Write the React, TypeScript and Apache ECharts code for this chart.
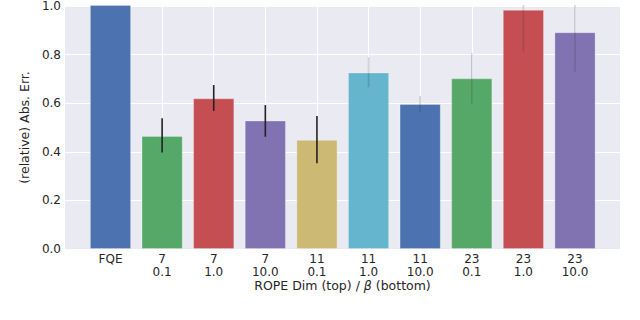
import React, { useEffect, useRef } from "react";
import * as echarts from "echarts";

const categories = ["FQE", "7\n0.1", "7\n1.0", "7\n10.0", "11\n0.1", "11\n1.0", "11\n10.0", "23\n0.1", "23\n1.0", "23\n10.0"];
const values = [1.0, 0.463, 0.617, 0.526, 0.447, 0.723, 0.594, 0.699, 0.98, 0.888];
const errLow: (number | null)[] = [null, 0.395, 0.566, 0.46, 0.351, 0.663, 0.56, 0.594, 0.809, 0.727];
const errHigh: (number | null)[] = [null, 0.536, 0.672, 0.59, 0.545, 0.786, 0.627, 0.802, 1.15, 1.05];
const yMin = 0;
const yMax = 1.0;
const yStep = 0.2;
const yTitle = "(relative) Abs. Err.";

const palette = ["#4C72B0", "#55A868", "#C44E52", "#8172B2", "#CCB974", "#64B5CD", "#4C72B0", "#55A868", "#C44E52", "#8172B2"];

export default function App() {
  const ref = useRef<HTMLDivElement>(null);
  useEffect(() => {
    document.body.style.margin = "0";
    const chart = echarts.init(ref.current!, null, { renderer: "svg" });
    const font = "DejaVu Sans";
    const errData = categories.map((_, i) => [i, errLow[i], errHigh[i]]).filter((d) => d[1] != null);
    chart.setOption({
      animation: false,
      textStyle: { fontFamily: font },
      grid: [
        { left: 65, right: 20, top: 5, bottom: 71, show: true, backgroundColor: "#EAEAF2", borderWidth: 0 },
        { left: 110.5, right: 65, top: 5, bottom: 71 },
      ],
      xAxis: [
        {
          type: "value", gridIndex: 0, min: 0, max: 1,
          axisLine: { show: false }, axisTick: { show: false }, axisLabel: { show: false }, splitLine: { show: false },
          name: "{a|ROPE Dim (top) / }{b|β}{a| (bottom)}",
          nameLocation: "middle", nameGap: 30,
          nameTextStyle: {
            rich: {
              a: { fontFamily: font, fontSize: 12.5, color: "#262626" },
              b: { fontFamily: font, fontSize: 12.5, color: "#262626", fontStyle: "italic" },
            },
          },
        },
        {
          type: "category", gridIndex: 1, data: categories, boundaryGap: false,
          axisLine: { show: false }, axisTick: { show: false },
          axisLabel: { fontFamily: font, fontSize: 12, color: "#262626", lineHeight: 13.5, margin: 3, interval: 0 },
          splitLine: { show: true, lineStyle: { color: "#ffffff", width: 1 } },
        },
      ],
      yAxis: [
        {
          type: "value", gridIndex: 0, min: yMin, max: yMax, interval: yStep,
          axisLine: { show: false }, axisTick: { show: false },
          axisLabel: { fontFamily: font, fontSize: 12, color: "#262626", margin: 4, formatter: (v: number) => v.toFixed(1) },
          splitLine: { show: true, lineStyle: { color: "#ffffff", width: 1 } },
          name: yTitle, nameLocation: "middle", nameGap: 25, nameRotate: 90,
          nameTextStyle: { fontFamily: font, fontSize: 12.5, color: "#262626" },
        },
        {
          type: "value", gridIndex: 1, min: yMin, max: yMax, interval: yStep,
          axisLine: { show: false }, axisTick: { show: false }, axisLabel: { show: false }, splitLine: { show: false },
        },
      ],
      series: [
        {
          type: "bar", xAxisIndex: 1, yAxisIndex: 1, clip: false, barWidth: 41,
          data: values.map((v, i) => ({
            value: v,
            itemStyle: { color: palette[i], borderColor: "rgba(255,255,255,0.35)", borderWidth: 0.8 },
          })),
        },
        {
          type: "custom", xAxisIndex: 1, yAxisIndex: 1, clip: true, z: 5,
          data: errData,
          renderItem: (params: any, api: any) => {
            const idx = api.value(0);
            const p1 = api.coord([idx, api.value(1)]);
            const p2 = api.coord([idx, api.value(2)]);
            const light = idx >= 5;
            return {
              type: "line",
              shape: { x1: p1[0], y1: p1[1], x2: p2[0], y2: p2[1] },
              style: { stroke: light ? "rgba(60,60,60,0.22)" : "#222222", lineWidth: 1.6 },
            };
          },
        },
      ],
    });
    return () => chart.dispose();
  }, []);
  return <div ref={ref} style={{ width: 640, height: 320 }} />;
}
